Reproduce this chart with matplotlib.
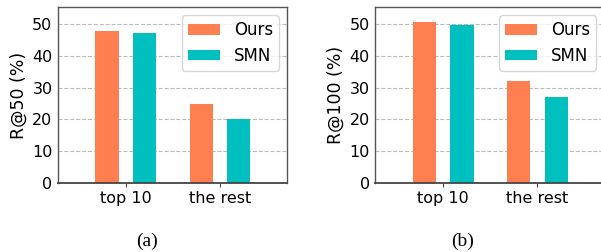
import matplotlib
matplotlib.use("Agg")
import matplotlib.pyplot as plt
import numpy as np

categories = ["top 10", "the rest"]
series_names = ["Ours", "SMN"]
r50_ours = [47.8, 24.7]
r50_smn = [47.0, 20.0]
r100_ours = [50.6, 32.0]
r100_smn = [49.8, 27.0]
yticks = [0, 10, 20, 30, 40, 50]

colors = ["#FF7F50", "#00BFBF"]

fig = plt.figure(figsize=(6.01, 2.52), dpi=100)
ax1 = fig.add_axes([58/601, 69/252, 229/601, 176/252])
ax2 = fig.add_axes([375.3/601, 69/252, 229/601, 176/252])

x = np.arange(len(categories))
w = 0.245
off = 0.2

def draw(ax, ours, smn, ylabel):
    ax.set_axisbelow(True)
    ax.yaxis.grid(True, linestyle="--", color="#bbbbbb", linewidth=0.8)
    ax.bar(x - off, ours, w, color=colors[0], label=series_names[0])
    ax.bar(x + off, smn, w, color=colors[1], label=series_names[1])
    ax.set_xlim(-0.72, 1.71)
    ax.set_ylim(0, 55.3)
    ax.set_xticks(x)
    ax.set_xticklabels(categories, fontsize=11.5)
    ax.set_yticks(yticks)
    ax.tick_params(axis="y", labelsize=11.5, length=0, pad=4)
    ax.tick_params(axis="x", length=3, color="#444444", pad=3)
    ax.set_ylabel(ylabel, fontsize=12.5, labelpad=3)
    for s in ax.spines.values():
        s.set_color("#555555")
        s.set_linewidth(1.0)
    ax.spines["bottom"].set_color("#444444")
    ax.spines["bottom"].set_linewidth(1.3)
    ax.legend(loc="upper right", fontsize=12, handlelength=1.9, handleheight=0.6,
              borderpad=0.35, labelspacing=0.45, handletextpad=0.85,
              borderaxespad=0.5,
              fancybox=True, framealpha=0.8, edgecolor="#cccccc")

draw(ax1, r50_ours, r50_smn, "R@50 (%)")
draw(ax2, r100_ours, r100_smn, "R@100 (%)")

fig.text(147/601, 1 - 241/252, "(a)", family="Liberation Serif", fontsize=14, ha="center", va="center")
fig.text(463/601, 1 - 241/252, "(b)", family="Liberation Serif", fontsize=14, ha="center", va="center")

fig.savefig("out.png", dpi=100)
